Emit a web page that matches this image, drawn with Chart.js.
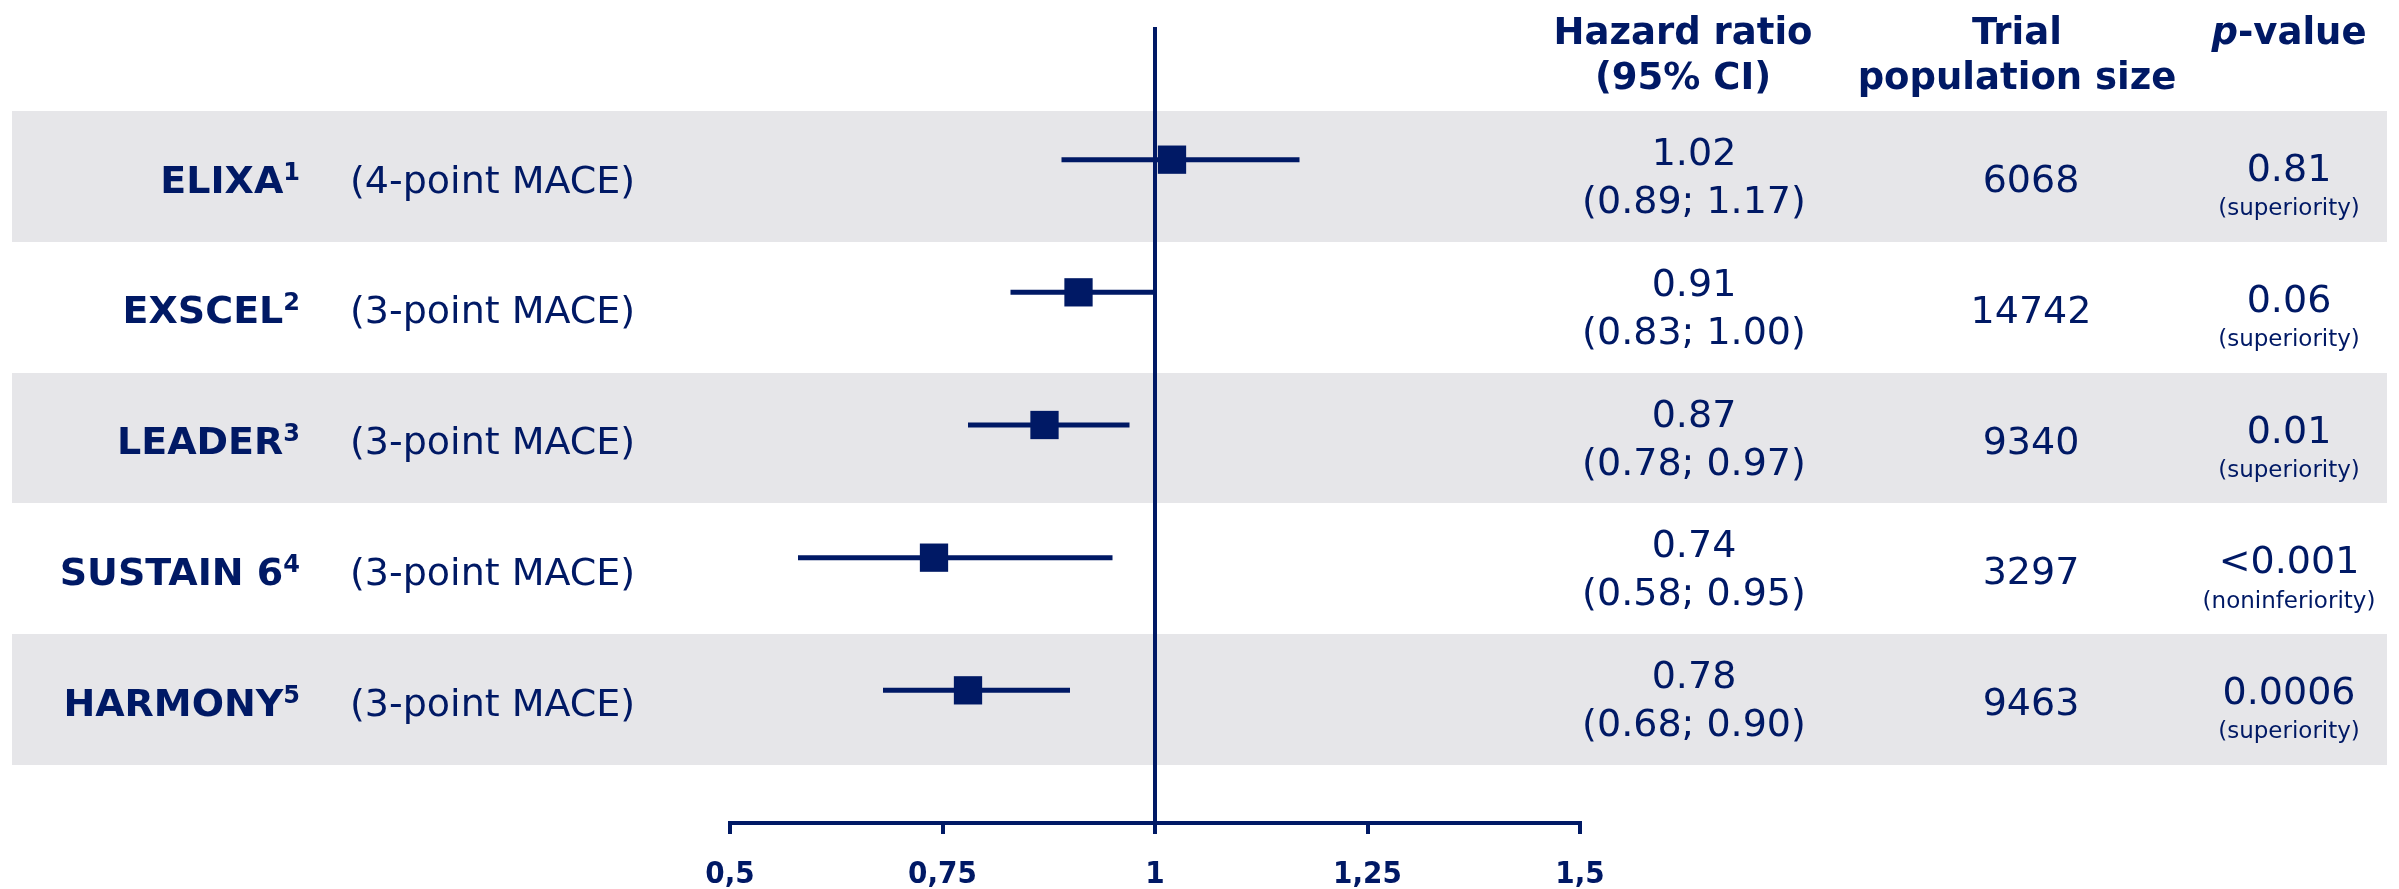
<!DOCTYPE html>
<html>
<head>
<meta charset="utf-8">
<title>Cardiovascular outcome trials – hazard ratios</title>
<script src="https://cdn.jsdelivr.net/npm/chart.js@4.4.1/dist/chart.umd.min.js"></script>
<style>
  html, body { margin: 0; padding: 0; background: #ffffff; }
  canvas { display: block; }
</style>
</head>
<body>
<canvas id="forest" width="2399" height="889"></canvas>
<script>
// ---- Trial data ----
const trialNames = ['ELIXA', 'EXSCEL', 'LEADER', 'SUSTAIN 6', 'HARMONY'];
const trialRefs = ['1', '2', '3', '4', '5'];
const endpoints = ['(4-point MACE)', '(3-point MACE)', '(3-point MACE)', '(3-point MACE)', '(3-point MACE)'];
const hazardRatios = [1.02, 0.91, 0.87, 0.74, 0.78];
const ciLower = [0.89, 0.83, 0.78, 0.58, 0.68];
const ciUpper = [1.17, 1.00, 0.97, 0.95, 0.90];
const populationSizes = [6068, 14742, 9340, 3297, 9463];
const pValues = ['0.81', '0.06', '0.01', '<0.001', '0.0006'];
const pTests = ['(superiority)', '(superiority)', '(superiority)', '(noninferiority)', '(superiority)'];

// ---- Axis ----
const tickValues = [0.5, 0.75, 1, 1.25, 1.5];
const tickLabels = ['0,5', '0,75', '1', '1,25', '1,5'];

// ---- Styling ----
const NAVY = '#001965';
const BAND = '#e6e6e9';
const FONT = "'DejaVu Sans', Verdana, sans-serif";
const TICK_FONT = "'DejaVu Sans Condensed', 'DejaVu Sans', sans-serif";
const CAP = 0.729; // cap height of DejaVu Sans relative to font size

// Row layout of the table (background bands and text lines)
const BAND_TOP = 111;
const BAND_H = 130.75;
const BAND_LEFT = 12;
const BAND_RIGHT = 2387;
const bandCenter = i => BAND_TOP + BAND_H * i + BAND_H / 2;

// Column positions
const NAME_RIGHT = 300;
const DESC_LEFT = 350;
const HR_X = 1694;
const N_X = 2031;
const P_X = 2289;

function capText(ctx, text, x, cy, size, weight, align, style) {
  ctx.font = `${style || 'normal'} ${weight} ${size}px ${FONT}`;
  ctx.textAlign = align;
  ctx.textBaseline = 'alphabetic';
  ctx.fillText(text, x, cy + CAP * size / 2);
}

// Grey bands behind alternating rows
const bandPlugin = {
  id: 'rowBands',
  beforeDraw(chart) {
    const ctx = chart.ctx;
    ctx.save();
    ctx.fillStyle = BAND;
    trialNames.forEach((_, i) => {
      if (i % 2 === 0) {
        const top = Math.round(BAND_TOP + BAND_H * i);
        const bottom = Math.round(BAND_TOP + BAND_H * (i + 1));
        ctx.fillRect(BAND_LEFT, top, BAND_RIGHT - BAND_LEFT, bottom - top);
      }
    });
    ctx.restore();
  }
};

// Trial labels, column headers and the value columns
const tablePlugin = {
  id: 'tableText',
  afterDraw(chart) {
    const ctx = chart.ctx;
    ctx.save();
    ctx.fillStyle = NAVY;

    // Column headers
    capText(ctx, 'Hazard ratio', 1683, 31, 37, 'bold', 'center');
    capText(ctx, '(95% CI)', 1683, 76, 37, 'bold', 'center');
    capText(ctx, 'Trial', 2017, 31, 37, 'bold', 'center');
    capText(ctx, 'population size', 2017, 76, 37, 'bold', 'center');
    ctx.font = `italic bold 37px ${FONT}`;
    const pw = ctx.measureText('p').width;
    ctx.font = `normal bold 37px ${FONT}`;
    const vw = ctx.measureText('-value').width;
    const pStart = 2289 - (pw + vw) / 2;
    capText(ctx, 'p', pStart, 31, 37, 'bold', 'left', 'italic');
    capText(ctx, '-value', pStart + pw, 31, 37, 'bold', 'left');

    trialNames.forEach((name, i) => {
      const c = bandCenter(i);

      // Trial name with reference superscript
      ctx.font = `normal bold 24px ${FONT}`;
      const sw = ctx.measureText(trialRefs[i]).width;
      const baseline = c + 2.5 + CAP * 38 / 2;
      ctx.textAlign = 'right';
      ctx.textBaseline = 'alphabetic';
      ctx.fillText(trialRefs[i], NAME_RIGHT, baseline - 13);
      capText(ctx, name, NAME_RIGHT - sw, c + 2.5, 38, 'bold', 'right');

      // Endpoint
      capText(ctx, endpoints[i], DESC_LEFT, c + 2.5, 38, 'normal', 'left');

      // Hazard ratio and confidence interval
      capText(ctx, hazardRatios[i].toFixed(2), HR_X, c - 25, 38, 'normal', 'center');
      capText(ctx, `(${ciLower[i].toFixed(2)}; ${ciUpper[i].toFixed(2)})`, HR_X, c + 23, 38, 'normal', 'center');

      // Population size
      capText(ctx, String(populationSizes[i]), N_X, c + 2, 38, 'normal', 'center');

      // p-value and test type
      capText(ctx, pValues[i], P_X, c - 9, 38, 'normal', 'center');
      ctx.font = `normal normal 23px ${FONT}`;
      ctx.textAlign = 'center';
      ctx.textBaseline = 'alphabetic';
      ctx.fillText(pTests[i], P_X, c + 32 + 7);
    });
    ctx.restore();
  }
};

// Datasets: markers first so they are painted on top of the CI lines
const markerData = hazardRatios.map((v, i) => ({ x: v, y: i }));
const datasets = [{
  label: 'Hazard ratio',
  data: markerData,
  pointStyle: 'rect',
  pointRadius: 20,
  pointHoverRadius: 20,
  pointBackgroundColor: NAVY,
  pointBorderWidth: 0,
  showLine: false
}];
trialNames.forEach((name, i) => {
  datasets.push({
    label: name + ' 95% CI',
    data: [{ x: ciLower[i], y: i }, { x: ciUpper[i], y: i }],
    showLine: true,
    borderColor: NAVY,
    borderWidth: 5,
    borderCapStyle: 'butt',
    pointRadius: 0,
    pointHoverRadius: 0
  });
});

new Chart(document.getElementById('forest'), {
  type: 'scatter',
  data: { datasets },
  options: {
    responsive: false,
    devicePixelRatio: 1,
    animation: false,
    events: [],
    layout: { padding: { left: 730, right: 819, top: 27, bottom: 0 } },
    plugins: {
      legend: { display: false },
      tooltip: { enabled: false },
      title: { display: false }
    },
    scales: {
      x: {
        type: 'linear',
        position: 'bottom',
        min: 0.5,
        max: 1.5,
        afterBuildTicks(scale) {
          scale.ticks = tickValues.map(v => ({ value: v }));
        },
        afterFit(scale) { scale.height = 66; },
        ticks: {
          autoSkip: false,
          maxRotation: 0,
          padding: 22,
          color: NAVY,
          font: { family: TICK_FONT, size: 31, weight: 'bold', lineHeight: 1.2 },
          callback: (value, index) => tickLabels[index]
        },
        grid: {
          drawOnChartArea: true,
          drawTicks: true,
          color: ctx => (ctx.tick && ctx.tick.value === 1) ? NAVY : 'rgba(0,0,0,0)',
          lineWidth: 4,
          tickColor: NAVY,
          tickWidth: 4,
          tickLength: 11
        },
        border: { display: true, color: NAVY, width: 4 }
      },
      y: {
        type: 'linear',
        display: false,
        reverse: true,
        min: -1,
        max: 5
      }
    }
  },
  plugins: [bandPlugin, tablePlugin]
});
</script>
</body>
</html>
